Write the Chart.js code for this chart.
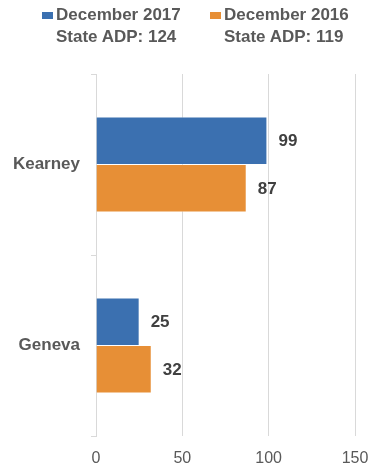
<!DOCTYPE html>
<html>
<head>
<meta charset="utf-8">
<script src="https://cdn.jsdelivr.net/npm/chart.js@4.4.1/dist/chart.umd.min.js"></script>
<style>
  html, body { margin: 0; padding: 0; background: #fff; }
  #wrap { position: relative; width: 369px; height: 468px; }
  #legend { position: absolute; top: 4px; left: 0; width: 369px; font: bold 17px "Liberation Sans", Arial, sans-serif; color: #595959; }
  .item { position: absolute; top: 0; line-height: 22px; white-space: nowrap; }
  .box { position: absolute; left: -14px; top: 8px; width: 11px; height: 7px; }
</style>
</head>
<body>
<div id="wrap">
  <div id="legend"></div>
  <canvas id="myChart" width="369" height="468"></canvas>
</div>
<script>
const places = ["Kearney", "Geneva"];
const seriesNames = [
  ["December 2017", "State ADP: 124"],
  ["December 2016", "State ADP: 119"],
];
const dec2017 = [99, 25];
const dec2016 = [87, 32];
const xTicks = [0, 50, 100, 150];

const colors = ["#3b70b0", "#e78f36"];
const legendLeft = [56, 224];

// legend: two-line labels, built as html
const legend = document.getElementById("legend");
seriesNames.forEach(function (lines, i) {
  const el = document.createElement("div");
  el.className = "item";
  el.style.left = legendLeft[i] + "px";
  el.innerHTML = '<span class="box" style="background:' + colors[i] + '"></span>' + lines.join("<br>");
  legend.appendChild(el);
});

// value labels to the right of each bar
const valueLabels = {
  id: "valueLabels",
  afterDatasetsDraw(chart) {
    const c = chart.ctx;
    c.save();
    c.font = "bold 17px 'Liberation Sans', Arial, sans-serif";
    c.fillStyle = "#404040";
    c.textAlign = "left";
    c.textBaseline = "middle";
    chart.data.datasets.forEach(function (ds, i) {
      chart.getDatasetMeta(i).data.forEach(function (bar, j) {
        c.fillText(ds.data[j], bar.x + 11.5, bar.y + 1);
      });
    });
    c.restore();
  },
};

const ctx = document.getElementById("myChart").getContext("2d");
const myChart = new Chart(ctx, {
  type: "bar",
  data: {
    labels: places,
    datasets: [
      {
        label: seriesNames[0].join(" "),
        data: dec2017,
        backgroundColor: colors[0],
        borderColor: "rgba(255,255,255,0.6)",
        borderWidth: 0.5,
        barPercentage: 1,
        categoryPercentage: 0.525,
      },
      {
        label: seriesNames[1].join(" "),
        data: dec2016,
        backgroundColor: colors[1],
        borderColor: "rgba(255,255,255,0.6)",
        borderWidth: 0.5,
        barPercentage: 1,
        categoryPercentage: 0.525,
      },
    ],
  },
  options: {
    indexAxis: "y",
    responsive: false,
    animation: false,
    layout: {
      padding: { top: 74, right: 14, bottom: 0, left: 0 },
    },
    scales: {
      x: {
        min: 0,
        max: 150,
        afterBuildTicks(scale) {
          scale.ticks = xTicks.map(function (v) { return { value: v }; });
        },
        afterFit(scale) {
          scale.height = 32;
          scale.paddingRight = 0;
          scale.paddingLeft = 0;
        },
        border: { display: false },
        grid: {
          color: "#d9d9d9",
          drawTicks: false,
        },
        ticks: {
          padding: 13,
          color: "#595959",
          font: { family: "'Liberation Sans', Arial, sans-serif", size: 16 },
        },
      },
      y: {
        afterFit(scale) {
          scale.width = 96;
        },
        border: { display: true, color: "#d9d9d9" },
        grid: {
          offset: true,
          drawOnChartArea: false,
          color: "#d9d9d9",
          tickLength: 5,
        },
        ticks: {
          padding: 11,
          color: "#595959",
          font: { family: "'Liberation Sans', Arial, sans-serif", size: 17, weight: "bold" },
        },
      },
    },
    plugins: {
      legend: { display: false },
      tooltip: { enabled: false },
    },
  },
  plugins: [valueLabels],
});
</script>
</body>
</html>
